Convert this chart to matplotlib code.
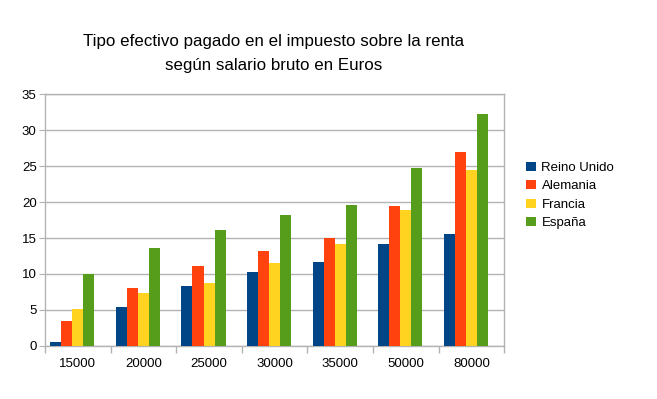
import matplotlib
matplotlib.use("Agg")
import matplotlib.pyplot as plt
import numpy as np

categories = ["15000", "20000", "25000", "30000", "35000", "50000", "80000"]
reino_unido = [0.6, 5.4, 8.3, 10.3, 11.7, 14.2, 15.6]
alemania = [3.5, 8.1, 11.1, 13.2, 15.0, 19.4, 27.0]
francia = [5.2, 7.4, 8.7, 11.5, 14.2, 18.9, 24.4]
espana = [10.0, 13.6, 16.1, 18.2, 19.6, 24.7, 32.3]
extra = [0, 0, 0, 0, 0, 0, 0]  # empty fifth series in the source chart
series_names = ["Reino Unido", "Alemania", "Francia", "España"]
colors = ["#004586", "#ff420e", "#ffd320", "#579d1c"]

plt.rcParams['font.family'] = ['Liberation Sans', 'DejaVu Sans']

fig = plt.figure(figsize=(6.57, 3.99), dpi=100)
ax = fig.add_axes([0.0685, 0.133, 0.699, 0.631])

x = np.arange(len(categories))
w = 0.168
data = [reino_unido, alemania, francia, espana]
for i, (vals, name, c) in enumerate(zip(data, series_names, colors)):
    ax.bar(x + (i - 2) * w, vals, w, color=c, label=name, zorder=3)
ax.bar(x + 2 * w, extra, w, color='#ff8080', zorder=3, linewidth=0)

ax.set_xlim(-0.5, len(categories) - 0.5)
ax.set_ylim(0, 35)
ax.set_yticks(range(0, 36, 5))
ax.set_xticks(x)
ax.set_xticklabels(categories)
ax.set_xticks(np.arange(-0.5, len(categories), 1), minor=True)
ax.tick_params(axis='x', which='major', length=0, labelsize=9.5, pad=9)
ax.tick_params(axis='x', which='minor', length=5, color='#b3b3b3', width=1)
ax.tick_params(axis='y', length=4, color='#b3b3b3', labelsize=9.5, pad=2)
ax.grid(axis='y', color='#b3b3b3', linewidth=1, zorder=0)
for s in ax.spines.values():
    s.set_color('#b3b3b3')
    s.set_linewidth(1)

fig.text(0.417, 0.895, "Tipo efectivo pagado en el impuesto sobre la renta", ha='center', va='center', fontsize=12.2)
fig.text(0.417, 0.835, "según salario bruto en Euros", ha='center', va='center', fontsize=12.2)

leg = fig.legend(loc='center left', bbox_to_anchor=(0.783, 0.51), frameon=False,
                 fontsize=9.5, handlelength=0.7, handleheight=0.7, handletextpad=0.45,
                 labelspacing=0.48)

fig.savefig("out.png", dpi=100)
